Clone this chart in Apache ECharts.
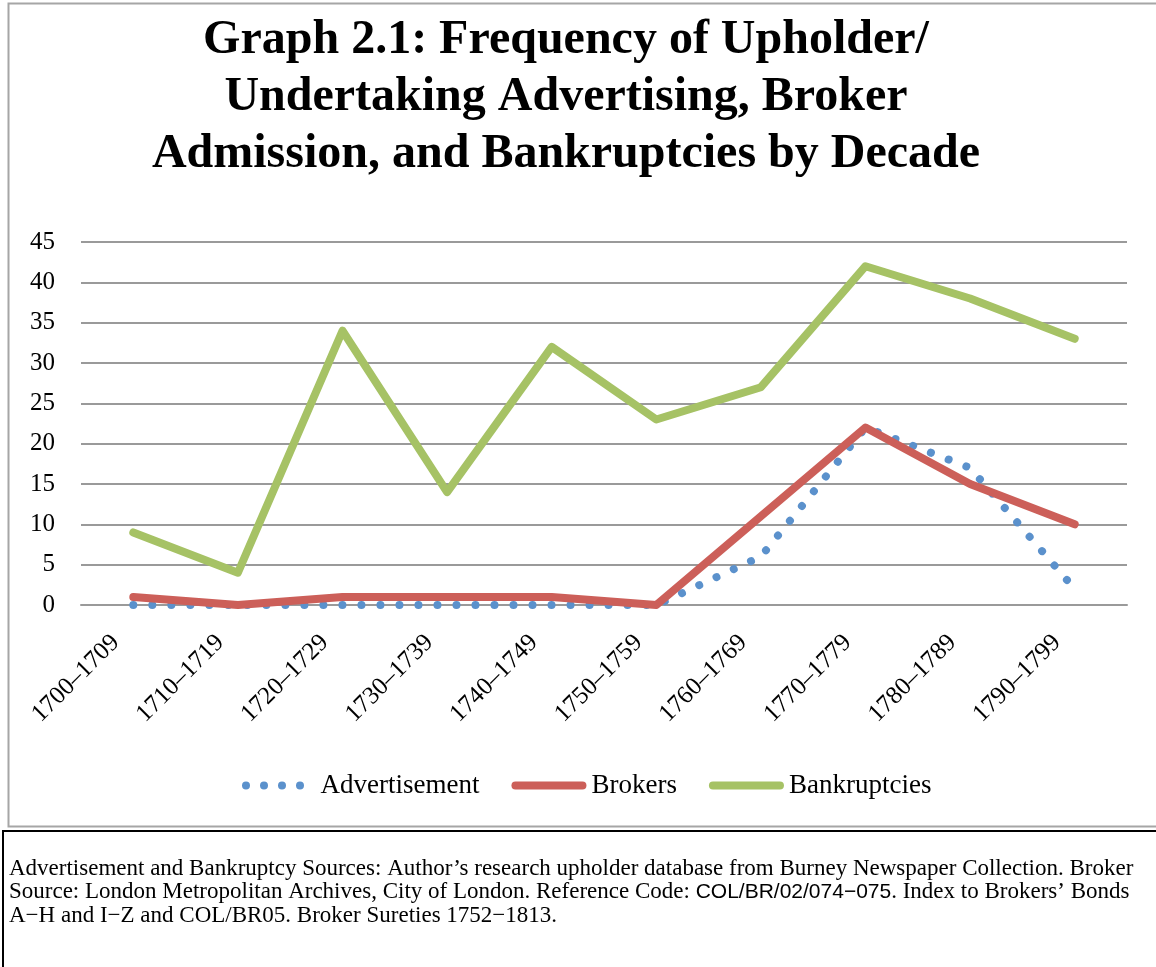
<!DOCTYPE html>
<html>
<head>
<meta charset="utf-8">
<script src="https://cdn.jsdelivr.net/npm/echarts@6/dist/echarts.min.js"></script>
<style>
html,body{margin:0;padding:0;background:#fff;}
#chart{width:1156px;height:967px;}
</style>
</head>
<body>
<div id="chart"></div>
<script>
var categories = ['1700\u20131709','1710\u20131719','1720\u20131729','1730\u20131739','1740\u20131749','1750\u20131759','1760\u20131769','1770\u20131779','1780\u20131789','1790\u20131799'];
var advertisement = [0, 0, 0, 0, 0, 0, 6, 22, 17, 2];
var brokers = [1, 0, 1, 1, 1, 0, 11, 22, 15, 10];
var bankruptcies = [9, 4, 34, 14, 32, 23, 27, 42, 38, 33];
var yTicks = {min: 0, max: 45, interval: 5};
var titleText = 'Graph 2.1: Frequency of Upholder/\nUndertaking Advertising, Broker\nAdmission, and Bankruptcies by Decade';
var footLine1 = 'Advertisement and Bankruptcy Sources: Author\u2019s research upholder database from Burney Newspaper Collection. Broker';
var footLine2a = 'Source: London Metropolitan Archives, City of London. Reference Code: ';
var footLine2b = 'COL/BR/02/074\u2212075';
var footLine2c = '. Index to Brokers\u2019 Bonds';
var footLine3 = 'A\u2212H and I\u2212Z and COL/BR05. Broker Sureties 1752\u22121813.';

var serif = 'Liberation Serif, Times New Roman, serif';
var chart = echarts.init(document.getElementById('chart'), null, {renderer: 'canvas'});
var option = {
  backgroundColor: '#ffffff',
  animation: false,
  title: {
    text: titleText,
    left: 561,
    textAlign: 'center',
    top: 7,
    textStyle: {fontFamily: serif, fontWeight: 'bold', fontSize: 48, lineHeight: 57, color: '#000'}
  },
  grid: {left: 81, right: 29, top: 242, bottom: 362, containLabel: false},
  legend: {
    left: 237, top: 767,
    itemGap: 32,
    itemWidth: 75, itemHeight: 8,
    textStyle: {fontFamily: serif, fontSize: 27, color: '#000'},
    data: [
      {name: 'Advertisement', icon: 'path://M0,4A4,4,0,1,1,8,4A4,4,0,1,1,0,4Z M18,4A4,4,0,1,1,26,4A4,4,0,1,1,18,4Z M36,4A4,4,0,1,1,44,4A4,4,0,1,1,36,4Z M54,4A4,4,0,1,1,62,4A4,4,0,1,1,54,4Z',
       textStyle: {padding: [0, 0, 0, 5]}},
      {name: 'Brokers', icon: 'path://M4,0H71A4,4,0,0,1,71,8H4A4,4,0,0,1,4,0Z'},
      {name: 'Bankruptcies', icon: 'path://M4,0H71A4,4,0,0,1,71,8H4A4,4,0,0,1,4,0Z'}
    ]
  },
  xAxis: {
    type: 'category',
    data: categories,
    boundaryGap: true,
    axisTick: {show: false},
    axisLine: {lineStyle: {color: '#9a9a9a', width: 2}},
    axisLabel: {rotate: 45, margin: 16, padding: [0, 25, 0, 0], fontFamily: serif, fontSize: 25, color: '#000', interval: 0}
  },
  yAxis: {
    type: 'value',
    min: yTicks.min, max: yTicks.max, interval: yTicks.interval,
    axisLine: {show: false},
    axisTick: {show: false},
    axisLabel: {margin: 26, fontFamily: serif, fontSize: 25, color: '#000'},
    splitLine: {lineStyle: {color: '#9a9a9a', width: 2}}
  },
  series: [
    {name: 'Advertisement', type: 'line', data: advertisement, symbol: 'none', color: '#5b91cc',
     lineStyle: {color: '#5b91cc', width: 8, type: [0.01, 19], cap: 'round', join: 'round'}},
    {name: 'Brokers', type: 'line', data: brokers, symbol: 'none', color: '#cc5f59',
     lineStyle: {color: '#cc5f59', width: 8, cap: 'round', join: 'round'}},
    {name: 'Bankruptcies', type: 'line', data: bankruptcies, symbol: 'none', color: '#a6c265',
     lineStyle: {color: '#a6c265', width: 8, cap: 'round', join: 'round'}}
  ],
  graphic: [
    {type: 'rect', silent: true, z: -1, shape: {x: 8.5, y: 3.5, width: 1170, height: 823},
     style: {fill: null, stroke: '#a6a6a6', lineWidth: 2}},
    {type: 'rect', silent: true, z: -1, shape: {x: 3, y: 831, width: 1180, height: 160},
     style: {fill: null, stroke: '#000', lineWidth: 2}},
    {type: 'text', silent: true, x: 9, y: 857,
     style: {
       text: footLine1 + '\n' + footLine2a + '{s|' + footLine2b + '}' + footLine2c + '\n' + footLine3,
       fontFamily: serif, fontSize: 23, lineHeight: 23.5, fill: '#000',
       rich: {s: {fontFamily: 'Liberation Sans, Arial, sans-serif', fontSize: 21, lineHeight: 23.5, fill: '#000'}}
     }}
  ]
};
chart.setOption(option);
</script>
</body>
</html>
